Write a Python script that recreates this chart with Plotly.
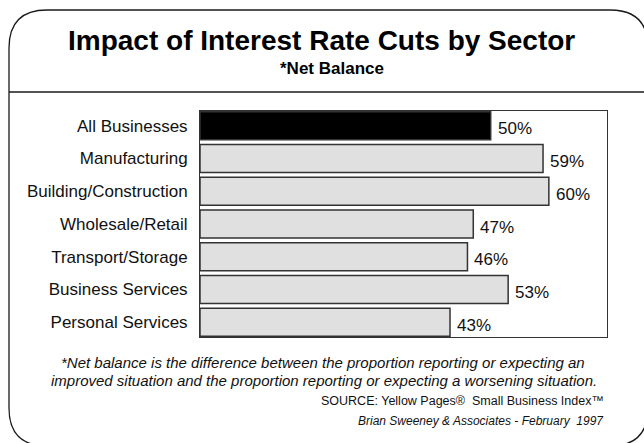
import plotly.graph_objects as go

# Survey data: net balance by sector (percent)
sectors = [
    "All Businesses",
    "Manufacturing",
    "Building/Construction",
    "Wholesale/Retail",
    "Transport/Storage",
    "Business Services",
    "Personal Services",
]
net_balance = [50, 59, 60, 47, 46, 53, 43]
bar_colors = ["#000000", "#e0e0e0", "#e0e0e0", "#e0e0e0", "#e0e0e0", "#e0e0e0", "#e0e0e0"]

W, H = 644, 443
ML, MR, MT, MB = 200, 37, 111, 106
PW, PH = W - ML - MR, H - MT - MB
FONT = "Liberation Sans, Arial, sans-serif"


def px(x):
    return (x - ML) / PW


def py(y):
    return (H - MB - y) / PH


fig = go.Figure(
    go.Bar(
        x=net_balance,
        y=sectors,
        orientation="h",
        marker=dict(color=bar_colors, line=dict(color="#333333", width=1.5)),
        width=0.86,
        hoverinfo="skip",
    )
)

fig.update_xaxes(
    range=[0, 70],
    showticklabels=False,
    showgrid=False,
    zeroline=False,
    showline=True,
    mirror=True,
    linecolor="#333333",
    linewidth=1,
    fixedrange=True,
)
fig.update_yaxes(
    type="category",
    range=[6.45, -0.45],
    showgrid=False,
    zeroline=False,
    showline=True,
    mirror=True,
    linecolor="#333333",
    linewidth=1,
    ticks="",
    ticklabelstandoff=8,
    tickfont=dict(family=FONT, size=17, color="#111111"),
    fixedrange=True,
)

# Rounded frame around the whole slide
x0, x1, y0, y1, r = 9, 648, 10, 446, 38
frame = (
    f"M {px(x0 + r)} {py(y0)} L {px(x1 - r)} {py(y0)} "
    f"Q {px(x1)} {py(y0)} {px(x1)} {py(y0 + r)} "
    f"L {px(x1)} {py(y1 - r)} Q {px(x1)} {py(y1)} {px(x1 - r)} {py(y1)} "
    f"L {px(x0 + r)} {py(y1)} Q {px(x0)} {py(y1)} {px(x0)} {py(y1 - r)} "
    f"L {px(x0)} {py(y0 + r)} Q {px(x0)} {py(y0)} {px(x0 + r)} {py(y0)} Z"
)
shapes = [
    dict(type="path", xref="paper", yref="paper", path=frame,
         line=dict(color="#1a1a1a", width=1.3), layer="above"),
    dict(type="line", xref="paper", yref="paper",
         x0=px(x0), x1=px(W), y0=py(92), y1=py(92),
         line=dict(color="#1a1a1a", width=1.5)),
]

# Value labels just beyond each bar end
value_labels = [
    dict(x=v, y=s, xref="x", yref="y", text=f"{v}%", showarrow=False,
         xanchor="left", yanchor="middle", xshift=5, yshift=-3,
         font=dict(family=FONT, size=17, color="#111111"))
    for s, v in zip(sectors, net_balance)
]

text_blocks = [
    dict(text="<b>Impact of Interest Rate Cuts by Sector</b>", x=px(321), y=py(41),
         font=dict(family=FONT, size=28, color="#000000")),
    dict(text="<b>*Net Balance</b>", x=px(332), y=py(68),
         font=dict(family=FONT, size=17, color="#000000")),
    dict(text="<i>*Net balance is the difference between the proportion reporting or expecting an</i>",
         x=px(323), y=py(362), font=dict(family=FONT, size=15, color="#111111")),
    dict(text="<i>improved situation and the proportion reporting or expecting a worsening situation.</i>",
         x=px(324), y=py(380), font=dict(family=FONT, size=15, color="#111111")),
    dict(text="SOURCE: Yellow Pages®  Small Business Index™", x=px(606), y=py(401),
         xanchor="right", font=dict(family=FONT, size=12.5, color="#111111")),
    dict(text="<i>Brian Sweeney &amp; Associates - February  1997</i>", x=px(606), y=py(421),
         xanchor="right", font=dict(family=FONT, size=12, color="#111111")),
]
for a in text_blocks:
    a.update(xref="paper", yref="paper", showarrow=False)
    a.setdefault("xanchor", "center")
    a.setdefault("yanchor", "middle")

fig.update_layout(
    width=W,
    height=H,
    margin=dict(l=ML, r=MR, t=MT, b=MB),
    paper_bgcolor="white",
    plot_bgcolor="white",
    showlegend=False,
    shapes=shapes,
    annotations=value_labels + text_blocks,
    font=dict(family=FONT),
)

fig.write_html("out.html", config={"displayModeBar": False})
